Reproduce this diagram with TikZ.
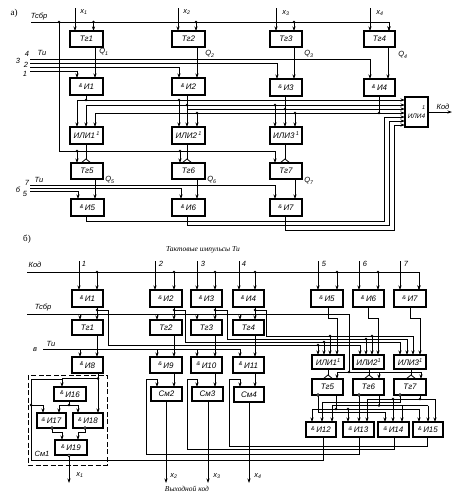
\documentclass[tikz,border=0pt]{standalone}
\usepackage{fontspec}
\setmainfont{Liberation Sans}
\newfontfamily\serf{Liberation Serif}
\usetikzlibrary{arrows.meta}
\newcounter{lab}
\newcommand\lbl[3]{\stepcounter{lab}\node[txt] (lab\thelab) at (#1,#2) {#3};}
\newcommand\serlbl[3]{\stepcounter{lab}\node[txt,font=\serf\fontsize{9}{10}\selectfont] (lab\thelab) at (#1,#2) {#3};}
% \blk{name}{x1}{y1}{x2}{y2}{text}
\newcommand\blk[6]{%
  \pgfmathsetmacro\bw{#4-#2}\pgfmathsetmacro\bh{#5-#3}%
  \pgfmathsetmacro\bx{(#2+#4)/2}\pgfmathsetmacro\by{(#3+#5)/2}%
  \node[blkbox,minimum width=\bw pt,minimum height=\bh pt] (#1) at (\bx,\by) {#6};}
\newcommand\am{\raisebox{2.5pt}{\fontsize{5.5}{5.5}\selectfont\&}\hspace{1.5pt}}
\newcommand\un{\raisebox{3pt}{\fontsize{5.5}{5.5}\selectfont 1}}
\newcommand\dts[1]{\foreach \px/\py in {#1}{\fill (\px,\py) circle (1.4pt);}}
\newcommand\ocs[1]{\foreach \px/\py in {#1}{\filldraw[fill=white,line width=.6pt] (\px,\py) circle (1.4pt);}}
\begin{document}
\begin{tikzpicture}[x=1pt,y=-1pt,
  txt/.style={inner sep=0pt,font=\itshape\fontsize{7.5}{8}\selectfont},
  blkbox/.style={draw,line width=1.6pt,inner sep=0pt,outer sep=0pt,fill=white,font=\itshape\fontsize{8}{8}\selectfont},
  wire/.style={line width=.95pt},
  arr/.style={line width=.95pt,-{Stealth[length=4.5pt,width=3pt]}},
  fan/.style={line width=.8pt}]
\useasboundingbox (0,0) rectangle (462,496);
%%%%%%%%%%%%%%%% a) wires
\draw[arr] (31,22) -- (389,22) -- (389,31);
\draw[arr] (59,22) -- (59,151) -- (275,151) -- (275,163);
\draw[arr] (77,151) -- (77,163);
\draw[arr] (180,151) -- (180,163);
\dts{59/22,93.5/22,196/22,294/22,77/151,180/151}
\draw[arr] (30,59) -- (370,59) -- (370,79);
\draw[arr] (30,63) -- (277,63) -- (277,79);
\draw[arr] (30,67) -- (179,67) -- (179,78);
\draw[arr] (30,71) -- (77,71) -- (77,78);
\draw[arr] (30,185) -- (275,185) -- (275,199);
\draw[arr] (30,188) -- (181,188) -- (181,199);
\draw[arr] (30,191.5) -- (78,191.5) -- (78,199);
%%%%%%%%%%%%%%%% a) blocks
\blk{Ta1}{70}{31}{103}{47}{Тг1}
\blk{Ta2}{172}{31}{205}{47}{Тг2}
\blk{Ta3}{270}{31}{302}{47}{Тг3}
\blk{Ta4}{364}{31}{395}{47}{Тг4}
\blk{Ia1}{70}{78}{103}{95}{\am И1}
\blk{Ia2}{172}{78}{205}{95}{\am И2}
\blk{Ia3}{270}{79}{302}{96}{\am И3}
\blk{Ia4}{364}{79}{395}{96}{\am И4}
\blk{Oa1}{70}{127}{103}{144}{ИЛИ1\,\un}
\blk{Oa2}{172}{127}{205}{144}{ИЛИ2\,\un}
\blk{Oa3}{270}{127}{302}{144}{ИЛИ3\,\un}
\blk{Oa4}{405}{97}{428}{127}{\shortstack[r]{\fontsize{5.5}{5.5}\selectfont 1\\[1pt]\fontsize{6.5}{6.5}\selectfont ИЛИ4}}
\blk{Ta5}{71}{163}{103}{179}{Тг5}
\blk{Ta6}{172}{163}{205}{179}{Тг6}
\blk{Ta7}{270}{163}{302}{179}{Тг7}
\blk{Ia5}{71}{199}{104}{216}{\am И5}
\blk{Ia6}{172}{199}{205}{216}{\am И6}
\blk{Ia7}{270}{199}{302}{216}{\am И7}
%%%%%%%%%%%%%%%% a) connectors
\foreach \n/\xi/\tp/\q in {1/75/93.5/95,2/178/196/197,3/276/294/294,4/370/389/388}{
  \draw[arr] (\xi,8) -- (\xi,0 |- Ta\n.north);
  \draw[arr] (\tp,22) -- (\tp,0 |- Ta\n.north);
  \draw[arr] (\q,0 |- Ta\n.south) -- (\q,0 |- Ia\n.north);
}
% bus to OR
\draw[wire] (86,0 |- Ia1.south) -- (86,100);
\draw[arr] (77,100) -- (Oa4.west |- 0,100);
\draw[arr] (77,100) -- (77,0 |- Oa1.north);
\draw[arr] (179,100) -- (179,0 |- Oa2.north);
\draw[arr] (86,105) -- (Oa4.west |- 0,105);
\draw[arr] (86,105) -- (86,0 |- Oa1.north);
\draw[arr] (187,0 |- Ia2.south) -- (187,0 |- Oa2.north);
\draw[arr] (275,105) -- (275,0 |- Oa3.north);
\draw[arr] (187,109) -- (Oa4.west |- 0,109);
\draw[arr] (285,0 |- Ia3.south) -- (285,0 |- Oa3.north);
\draw[arr] (95,113) -- (Oa4.west |- 0,113);
\draw[arr] (95,113) -- (95,0 |- Oa1.north);
\draw[arr] (197,113) -- (197,0 |- Oa2.north);
\draw[arr] (295,113) -- (295,0 |- Oa3.north);
\draw[wire] (379,0 |- Ia4.south) -- (379,113);
\dts{86/100,179/100,187/105,275/105,285/109,197/113,295/113,379/113}
\draw[arr] (86,0 |- Ia5.south) -- (86,221) -- (384,221) -- (384,117) -- (Oa4.west |- 0,117);
\draw[arr] (187,0 |- Ia6.south) -- (187,225) -- (389,225) -- (389,121) -- (Oa4.west |- 0,121);
\draw[arr] (285,0 |- Ia7.south) -- (285,230) -- (394,230) -- (394,125) -- (Oa4.west |- 0,125);
\draw[arr] (Oa4.east) -- (452,112);
\foreach \a/\b/\x/\q in {Oa1/Ta5/86/95,Oa2/Ta6/187/197,Oa3/Ta7/285/295}{
  \draw[wire] (\x,0 |- \a.south) -- (\x,159);
  \draw[fan] (\x-5,0 |- \b.north) -- (\x,159) -- (\x+5,0 |- \b.north);
}
\draw[arr] (95,0 |- Ta5.south) -- (95,0 |- Ia5.north);
\draw[arr] (197,0 |- Ta6.south) -- (197,0 |- Ia6.north);
\draw[arr] (295,0 |- Ta7.south) -- (295,0 |- Ia7.north);
%%%%%%%%%%%%%%%% a) labels
\serlbl{14}{13}{а)}
\lbl{39}{17}{Тсбр}
\lbl{84}{12}{x\textsubscript{1}}\lbl{187}{12}{x\textsubscript{2}}\lbl{286}{13}{x\textsubscript{3}}\lbl{380}{13}{x\textsubscript{4}}
\lbl{42}{53}{Ти}\lbl{27}{54}{4}\lbl{18}{61}{3}\lbl{26}{65}{2}\lbl{25}{74}{1}
\lbl{104}{52}{Q\textsubscript{1}}\lbl{210}{54}{Q\textsubscript{2}}\lbl{309}{54}{Q\textsubscript{3}}\lbl{403}{55}{Q\textsubscript{4}}
\lbl{443}{107}{Код}
\lbl{39}{180}{Ти}\lbl{27}{183}{7}\lbl{18}{190}{б}\lbl{25}{194}{5}
\lbl{110}{180}{Q\textsubscript{5}}\lbl{212}{180}{Q\textsubscript{6}}\lbl{309}{181}{Q\textsubscript{7}}
%%%%%%%%%%%%%%%% b) wires under blocks
\serlbl{27}{239}{б)}
\stepcounter{lab}\node[txt,font=\serf\itshape\fontsize{7.5}{8}\selectfont] (lab\thelab) at (203,250) {Тактовые импульсы Ти};
\draw[arr] (27,272) -- (419,272) -- (419,290);
\draw[wire] (27,314) -- (349,314) -- (349,372);
\draw[arr] (337,372) -- (421,372) -- (421,379);
\draw[arr] (337,372) -- (337,379);
\draw[arr] (379,372) -- (379,379);
\draw[wire] (43,349) -- (240,349);
\foreach \x in {80,157,197,240}{\draw[arr] (\x,314) -- (\x,320);\draw[arr] (\x,349) -- (\x,357);}
%%%%%%%%%%%%%%%% b) blocks
\blk{Ib1}{72}{290}{103}{307}{\am И1}
\blk{Ib2}{150}{290}{182}{307}{\am И2}
\blk{Ib3}{191}{290}{222}{307}{\am И3}
\blk{Ib4}{233}{290}{264}{307}{\am И4}
\blk{Ib5}{311}{290}{343}{307}{\am И5}
\blk{Ib6}{353}{290}{384}{307}{\am И6}
\blk{Ib7}{394}{290}{426}{307}{\am И7}
\blk{Tb1}{72}{320}{103}{335}{Тг1}
\blk{Tb2}{150}{320}{182}{335}{Тг2}
\blk{Tb3}{191}{320}{222}{335}{Тг3}
\blk{Tb4}{233}{320}{264}{335}{Тг4}
\blk{Ib8}{72}{357}{103}{373}{\am И8}
\blk{Ib9}{150}{357}{182}{373}{\am И9}
\blk{Ib10}{191}{357}{222}{373}{\am И10}
\blk{Ib11}{233}{357}{264}{373}{\am И11}
\blk{Sb2}{151}{387}{182}{401}{См2}
\blk{Sb3}{192}{387}{223}{401}{См3}
\blk{Sb4}{234}{387}{264}{402}{См4}
\blk{Ob1}{312}{355}{344}{369}{ИЛИ1\un}
\blk{Ob2}{353}{355}{384}{369}{ИЛИ2\un}
\blk{Ob3}{394}{355}{426}{369}{ИЛИ3\un}
\blk{Tb5}{312}{379}{343}{395}{Тг5}
\blk{Tb6}{353}{379}{384}{395}{Тг6}
\blk{Tb7}{394}{379}{426}{395}{Тг7}
\blk{Ib12}{306}{422}{336}{437}{\am И12}
\blk{Ib13}{343}{422}{374}{437}{\am И13}
\blk{Ib14}{378}{422}{409}{437}{\am И14}
\blk{Ib15}{413}{422}{443}{437}{\am И15}
\blk{Ib16}{54}{387}{86}{401}{\am И16}
\blk{Ib17}{37}{413}{66}{428}{\am И17}
\blk{Ib18}{73}{413}{103}{428}{\am И18}
\blk{Ib19}{55}{440}{87}{455}{\am И19}
\draw[line width=.9pt,dash pattern=on 5pt off 2.5pt] (28,375) rectangle (107,465);
%%%%%%%%%%%%%%%% b) connectors
\foreach \n/\xi/\tp in {1/79/97,2/155/174,3/197/215,4/239/255,5/318/337,6/359/378,7/400/419}{
  \draw[arr] (\xi,261) -- (\xi,0 |- Ib\n.north);
  \draw[arr] (\tp,272) -- (\tp,0 |- Ib\n.north);
}
\dts{97/272,174/272,215/272,255/272,337/272,378/272}
% AND -> trigger, branches to bus
\foreach \a/\b/\c/\x/\ex/\ey in {Ib1/Tb1/Ib8/97/108/345,Ib2/Tb2/Ib9/174/185/342,Ib3/Tb3/Ib10/215/227/339,Ib4/Tb4/Ib11/255/266/336}{
  \draw[arr] (\x,0 |- \a.south) -- (\x,0 |- \b.north);
  \draw[arr] (\x,0 |- \b.south) -- (\x,0 |- \c.north);
  \draw[wire] (\x,310) -- (\ex,310) -- (\ex,\ey);
  \fill (\x,310) circle (1.4pt);
}
\draw[arr] (108,345) -- (360,345) -- (360,0 |- Ob2.north);
\draw[arr] (185,342) -- (400,342) -- (400,0 |- Ob3.north);
\draw[arr] (227,339) -- (407,339) -- (407,0 |- Ob3.north);
\draw[arr] (266,336) -- (413,336) -- (413,0 |- Ob3.north);
\draw[arr] (318,345) -- (318,0 |- Ob1.north);
\draw[arr] (324,342) -- (324,0 |- Ob1.north);
\draw[arr] (330,336) -- (330,0 |- Ob1.north);
\draw[arr] (366,339) -- (366,0 |- Ob2.north);
\draw[arr] (372,336) -- (372,0 |- Ob2.north);
\dts{318/345,324/342,330/336,366/339,372/336,349/372}
\draw[arr] (328,0 |- Ib5.south) -- (328,318) -- (337,318) -- (337,0 |- Ob1.north);
\draw[arr] (368,0 |- Ib6.south) -- (368,318) -- (378,318) -- (378,0 |- Ob2.north);
\draw[arr] (410,0 |- Ib7.south) -- (410,318) -- (420,318) -- (420,0 |- Ob3.north);
% OR -> triggers
\foreach \a/\b/\x in {Ob1/Tb5/328,Ob2/Tb6/369,Ob3/Tb7/411}{
  \draw[wire] (\x,0 |- \a.south) -- (\x,375);
  \draw[fan] (\x-5,0 |- \b.north) -- (\x,375) -- (\x+5,0 |- \b.north);
}
% triggers -> AND 12..15
\draw[wire] (420,0 |- Tb7.south) -- (420,399);
\draw[wire] (367,399) -- (435,399);
\draw[arr] (367,399) -- (367,0 |- Ib13.north);
\draw[arr] (393,399) -- (393,0 |- Ib14.north);
\draw[arr] (435,399) -- (435,0 |- Ib15.north);
\draw[wire] (400,0 |- Tb7.south) -- (400,402.5) -- (322,402.5);
\draw[arr] (322,402.5) -- (322,0 |- Ib12.north);
\draw[wire] (379,0 |- Tb6.south) -- (379,405.5);
\draw[wire] (332,405.5) -- (428,405.5);
\draw[arr] (332,405.5) -- (332,0 |- Ib12.north);
\draw[arr] (402,405.5) -- (402,0 |- Ib14.north);
\draw[arr] (428,405.5) -- (428,0 |- Ib15.north);
\draw[wire] (336,0 |- Tb5.south) -- (336,409);
\draw[wire] (312,409) -- (419,409);
\draw[arr] (312,409) -- (312,0 |- Ib12.north);
\draw[arr] (348,409) -- (348,0 |- Ib13.north);
\draw[arr] (419,409) -- (419,0 |- Ib15.north);
\draw[arr] (318,0 |- Tb5.south) -- (318,412) -- (385,412) -- (385,0 |- Ib14.north);
\draw[arr] (359,0 |- Tb6.south) -- (359,0 |- Ib13.north);
\dts{420/399,393/399,379/405.5,336/409,348/409}
\ocs{318/395,359/395,400/395}
% sum feedback
\draw[arr] (323,0 |- Ib12.south) -- (323,460) -- (31,460) -- (31,379) -- (62,379) -- (62,0 |- Ib16.north);
\draw[arr] (359,0 |- Ib13.south) -- (359,454) -- (146,454) -- (146,379) -- (157,379) -- (157,0 |- Sb2.north);
\draw[arr] (394,0 |- Ib14.south) -- (394,449) -- (187,449) -- (187,379) -- (197,379) -- (197,0 |- Sb3.north);
\draw[arr] (427,0 |- Ib15.south) -- (427,446) -- (229,446) -- (229,379) -- (240,379) -- (240,0 |- Sb4.north);
\draw[arr] (174,0 |- Ib9.south) -- (174,0 |- Sb2.north);
\draw[arr] (215,0 |- Ib10.south) -- (215,0 |- Sb3.north);
\draw[arr] (255,0 |- Ib11.south) -- (255,0 |- Sb4.north);
\draw[arr] (166,0 |- Sb2.south) -- (166,483);
\draw[arr] (208,0 |- Sb3.south) -- (208,483);
\draw[arr] (249,0 |- Sb4.south) -- (249,483);
% adder 1
\draw[arr] (98,0 |- Ib8.south) -- (98,0 |- Ib18.north);
\draw[wire] (98,378.5) -- (62,378.5);
\draw[arr] (31,405) -- (43,405) -- (43,0 |- Ib17.north);
\draw[wire] (69,0 |- Ib16.south) -- (69,405);
\draw[arr] (69,405) -- (59,405) -- (59,0 |- Ib17.north);
\draw[arr] (69,405) -- (78,405) -- (78,0 |- Ib18.north);
\draw[arr] (52,0 |- Ib17.south) -- (52,432) -- (62,432) -- (62,0 |- Ib19.north);
\draw[arr] (85,0 |- Ib18.south) -- (85,432) -- (78,432) -- (78,0 |- Ib19.north);
\draw[arr] (69,0 |- Ib19.south) -- (69,483);
\dts{98/378.5,31/405,69/405}
\ocs{52/428,85/428,69/455.5}
%%%%%%%%%%%%%%%% b) labels
\lbl{35}{265}{Код}\lbl{43}{308}{Тсбр}\lbl{51}{344}{Ти}\lbl{35}{350}{в}
\lbl{84}{264}{1}\lbl{161}{264}{2}\lbl{203}{264}{3}\lbl{244}{264}{4}\lbl{324}{264}{5}\lbl{365}{264}{6}\lbl{406}{264}{7}
\lbl{42}{454}{См1}
\lbl{80}{475}{x\textsubscript{1}}\lbl{174}{476}{x\textsubscript{2}}\lbl{217}{476}{x\textsubscript{3}}\lbl{258}{476}{x\textsubscript{4}}
\stepcounter{lab}\node[txt,font=\serf\itshape\fontsize{7.5}{8}\selectfont] (lab\thelab) at (187,489) {Выходной код};
\end{tikzpicture}
\end{document}
